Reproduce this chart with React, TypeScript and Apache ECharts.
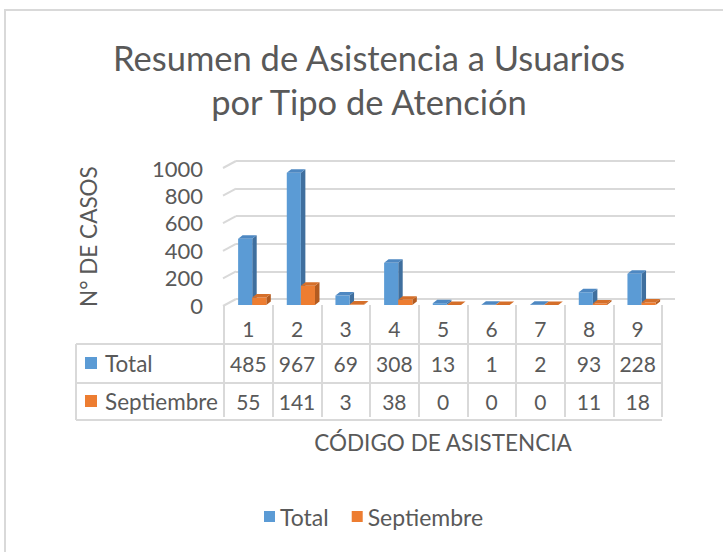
import React, { useEffect, useRef } from "react";
import * as echarts from "echarts";

const categories = ["1", "2", "3", "4", "5", "6", "7", "8", "9"];
const totalValues = [485, 967, 69, 308, 13, 1, 2, 93, 228];
const septValues = [55, 141, 3, 38, 0, 0, 0, 11, 18];
const yTicks = [0, 200, 400, 600, 800, 1000];
const seriesNames = ["Total", "Septiembre"];

const FONT = "Lato";
const TEXT = "#595959";
const GRID = "#D9D9D9";
const BLUE = { front: "#5B9BD5", side: "#3F6F9E", top: "#4E88C2" };
const ORANGE = { front: "#ED7D31", side: "#B35B20", top: "#D56F2A" };

function makeBarRenderer(slot: number, c: { front: string; side: string; top: string }) {
  return (params: any, api: any) => {
    const cat = api.value(0);
    const v = api.value(1);
    const top = api.coord([cat, v]);
    const base = api.coord([cat, 0]);
    const band = api.size([1, 0])[0];
    const w = band * 0.29;
    const x0 = top[0] - band * 0.21 + slot * w;
    const dx = band * 0.092;
    const dy = 3.5;
    return {
      type: "group",
      children: [
        {
          type: "polygon",
          shape: {
            points: [
              [x0 + w, top[1]],
              [x0 + w + dx, top[1] - dy],
              [x0 + w + dx, base[1] - dy],
              [x0 + w, base[1]],
            ],
          },
          style: { fill: c.side },
        },
        {
          type: "rect",
          shape: { x: x0, y: top[1], width: w, height: base[1] - top[1] },
          style: { fill: c.front },
        },
        {
          type: "polygon",
          shape: {
            points: [
              [x0, top[1]],
              [x0 + dx, top[1] - dy],
              [x0 + w + dx, top[1] - dy],
              [x0 + w, top[1]],
            ],
          },
          style: { fill: c.top },
        },
      ],
    };
  };
}

export default function App() {
  const ref = useRef<HTMLDivElement>(null);
  useEffect(() => {
    if (!ref.current) return;
    const chart = echarts.init(ref.current, null, { renderer: "svg" });
    const hiddenCat = (data: string[], margin: number, extra: any = {}) => ({
      type: "category",
      gridIndex: 1,
      data,
      position: "bottom",
      offset: 3,
      axisLine: { show: false },
      axisTick: { show: false },
      axisLabel: {
        interval: 0,
        margin,
        fontSize: 21,
        lineHeight: 24,
        color: TEXT,
        fontFamily: FONT,
      },
      ...extra,
    });
    const option: any = {
      animation: false,
      textStyle: { fontFamily: FONT },
      graphic: [
        {
          type: "rect",
          shape: { x: 5, y: 10, width: 760, height: 600 },
          style: { fill: "none", stroke: GRID, lineWidth: 2 },
          silent: true,
        },
        {
          type: "text",
          x: 369,
          y: 57,
          style: {
            text: "Resumen de Asistencia a Usuarios",
            fontSize: 34.5,
            fontFamily: FONT,
            fill: TEXT,
            align: "center",
            verticalAlign: "middle",
          },
        },
        {
          type: "text",
          x: 369,
          y: 101,
          style: {
            text: "por Tipo de Atención",
            fontSize: 34.5,
            fontFamily: FONT,
            fill: TEXT,
            align: "center",
            verticalAlign: "middle",
          },
        },
        // data table frame
        { type: "line", shape: { x1: 76, y1: 344, x2: 662, y2: 344 }, style: { stroke: GRID, lineWidth: 2 } },
        { type: "line", shape: { x1: 76, y1: 383, x2: 662, y2: 383 }, style: { stroke: GRID, lineWidth: 2 } },
        { type: "line", shape: { x1: 76, y1: 420, x2: 662, y2: 420 }, style: { stroke: GRID, lineWidth: 2 } },
        { type: "line", shape: { x1: 76, y1: 344, x2: 76, y2: 420 }, style: { stroke: GRID, lineWidth: 2 } },
        { type: "rect", shape: { x: 85, y: 357, width: 12, height: 12 }, style: { fill: BLUE.front } },
        {
          type: "text",
          x: 105,
          y: 363,
          style: { text: seriesNames[0], fontSize: 22.5, fontFamily: FONT, fill: TEXT, verticalAlign: "middle" },
        },
        { type: "rect", shape: { x: 85, y: 395, width: 12, height: 12 }, style: { fill: ORANGE.front } },
        {
          type: "text",
          x: 105,
          y: 401,
          style: { text: seriesNames[1], fontSize: 22.5, fontFamily: FONT, fill: TEXT, verticalAlign: "middle" },
        },
      ],
      legend: {
        data: seriesNames,
        left: 259,
        top: 500,
        icon: "rect",
        itemWidth: 11,
        itemHeight: 11,
        itemGap: 23,
        textStyle: { fontSize: 23, color: TEXT, fontFamily: FONT },
      },
      grid: [
        { left: 236, right: 48, top: 161, height: 138 },
        { left: 224, width: 438, top: 168.2, height: 136.8 },
      ],
      xAxis: [
        { type: "value", gridIndex: 0, min: 0, max: 1, show: false },
        {
          type: "category",
          gridIndex: 1,
          data: categories,
          position: "bottom",
          offset: 3,
          axisLine: { show: false },
          axisTick: { show: true, interval: 0, length: 112, lineStyle: { color: GRID, width: 2 } },
          axisLabel: { interval: 0, margin: 8, fontSize: 21, lineHeight: 24, color: TEXT, fontFamily: FONT },
          name: "CÓDIGO DE ASISTENCIA",
          nameLocation: "middle",
          nameGap: 123,
          nameTextStyle: { fontSize: 22.5, color: TEXT, fontFamily: FONT },
        },
        hiddenCat(totalValues.map(String), 43.5),
        hiddenCat(septValues.map(String), 81),
      ],
      yAxis: [
        {
          type: "value",
          gridIndex: 0,
          min: 0,
          max: 1000,
          interval: 200,
          axisLabel: { show: false },
          axisLine: { show: false },
          axisTick: { show: false },
          splitLine: { show: true, lineStyle: { color: GRID, width: 2 } },
        },
        {
          type: "value",
          gridIndex: 1,
          min: 0,
          max: 1000,
          interval: 200,
          axisLine: { show: false },
          axisTick: { show: false },
          splitLine: { show: false },
          axisLabel: {
            margin: 21,
            fontSize: 22,
            color: TEXT,
            fontFamily: FONT,
            padding: [5, 0, 0, 0],
            formatter: (v: number) => String(v),
          },
          name: "N° DE CASOS",
          nameLocation: "middle",
          nameGap: 124,
          nameRotate: 90,
          nameTextStyle: { fontSize: 22.5, color: TEXT, fontFamily: FONT },
        },
      ],
      series: [
        {
          type: "custom",
          name: "walls",
          xAxisIndex: 0,
          yAxisIndex: 0,
          silent: true,
          clip: false,
          data: yTicks.map((t) => [0, t]),
          renderItem: (params: any, api: any) => {
            const p = api.coord([0, api.value(1)]);
            return {
              type: "line",
              shape: { x1: p[0] - 13, y1: p[1] + 7, x2: p[0], y2: p[1] },
              style: { stroke: GRID, lineWidth: 2 },
            };
          },
        },
        {
          type: "custom",
          name: seriesNames[0],
          xAxisIndex: 1,
          yAxisIndex: 1,
          clip: false,
          itemStyle: { color: BLUE.front },
          data: totalValues.map((v, i) => [i, v]),
          renderItem: makeBarRenderer(0, BLUE),
        },
        {
          type: "custom",
          name: seriesNames[1],
          xAxisIndex: 1,
          yAxisIndex: 1,
          clip: false,
          itemStyle: { color: ORANGE.front },
          data: septValues.map((v, i) => [i, v]),
          renderItem: makeBarRenderer(1, ORANGE),
        },
      ],
    };
    chart.setOption(option);
    return () => chart.dispose();
  }, []);
  return (
    <div
      ref={ref}
      style={{ position: "fixed", left: 0, top: 0, width: 723, height: 552, background: "#fff" }}
    />
  );
}
